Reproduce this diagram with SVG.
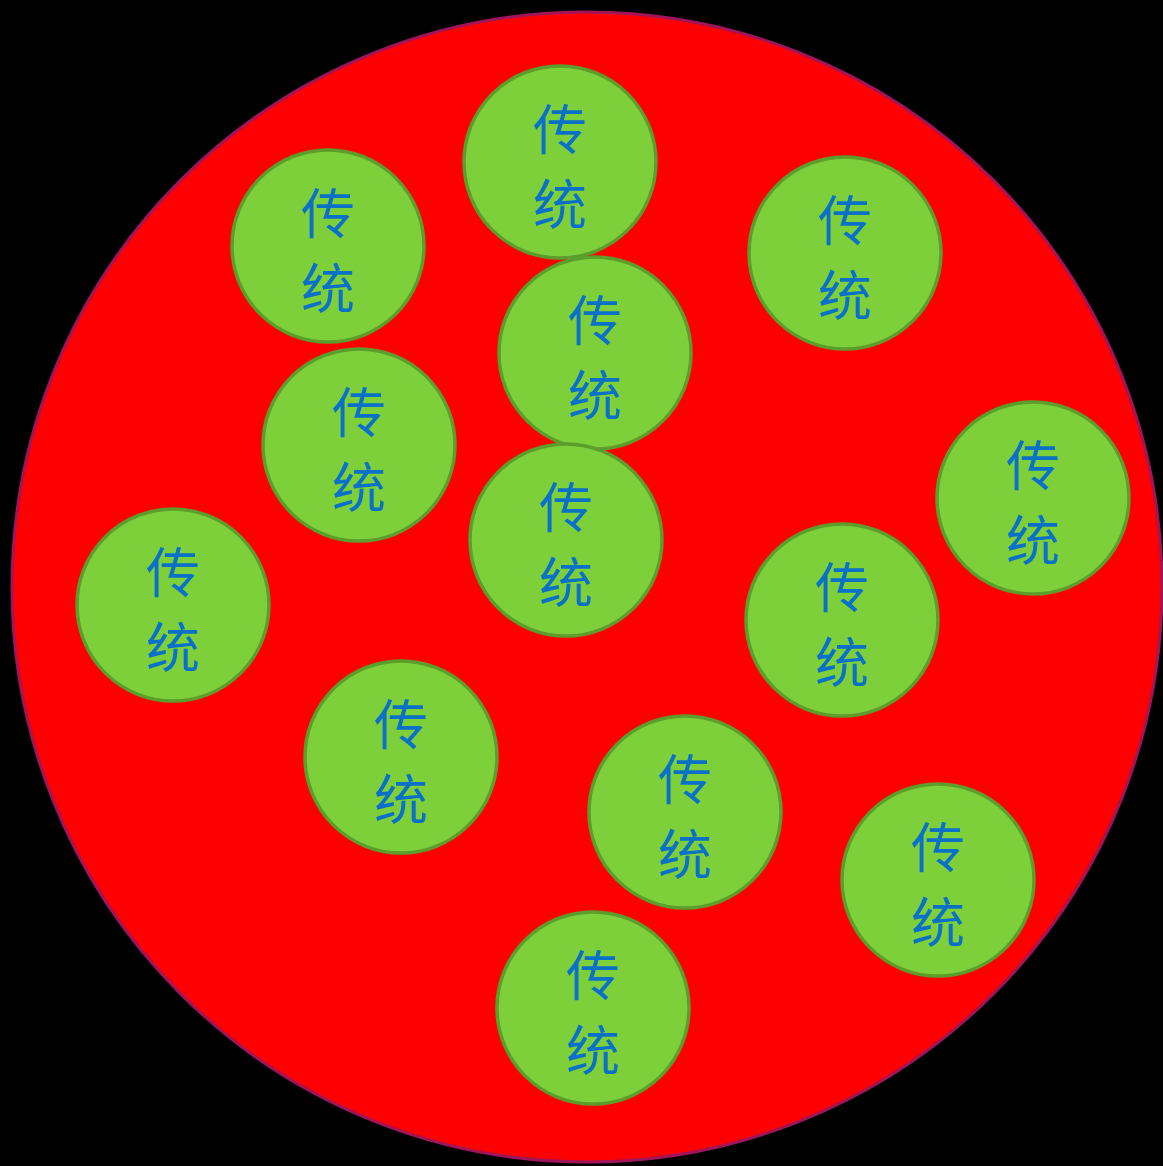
<svg xmlns="http://www.w3.org/2000/svg" width="1163" height="1166" viewBox="0 0 1163 1166">
<style>
.bg{fill:#000000}
.outer{fill:#FF0000;stroke:#A0145A;stroke-width:3}
.node circle{fill:#7ED03B;stroke:#5C9E2B;stroke-width:3.5}
.node text{font-family:"Noto Sans CJK SC","Noto Sans CJK TC",sans-serif;font-size:54px;fill:#0A70C8;text-anchor:middle;dominant-baseline:central}
</style>
<rect class="bg" x="0" y="0" width="1163" height="1166"/>
<g id="outer"><circle class="outer" cx="587" cy="587" r="575"/></g>
<g id="connectors"></g>
<g id="n1" class="node" transform="translate(560,162)"><circle r="96"/><text y="-36">传</text><text y="39">统</text></g>
<g id="n2" class="node" transform="translate(328,246)"><circle r="96"/><text y="-36">传</text><text y="39">统</text></g>
<g id="n3" class="node" transform="translate(845,253)"><circle r="96"/><text y="-36">传</text><text y="39">统</text></g>
<g id="n4" class="node" transform="translate(595,353)"><circle r="96"/><text y="-36">传</text><text y="39">统</text></g>
<g id="n5" class="node" transform="translate(359,445)"><circle r="96"/><text y="-36">传</text><text y="39">统</text></g>
<g id="n6" class="node" transform="translate(1033,498)"><circle r="96"/><text y="-36">传</text><text y="39">统</text></g>
<g id="n7" class="node" transform="translate(566,540)"><circle r="96"/><text y="-36">传</text><text y="39">统</text></g>
<g id="n8" class="node" transform="translate(173,605)"><circle r="96"/><text y="-36">传</text><text y="39">统</text></g>
<g id="n9" class="node" transform="translate(842,620)"><circle r="96"/><text y="-36">传</text><text y="39">统</text></g>
<g id="n10" class="node" transform="translate(401,757)"><circle r="96"/><text y="-36">传</text><text y="39">统</text></g>
<g id="n11" class="node" transform="translate(685,812)"><circle r="96"/><text y="-36">传</text><text y="39">统</text></g>
<g id="n12" class="node" transform="translate(938,880)"><circle r="96"/><text y="-36">传</text><text y="39">统</text></g>
<g id="n13" class="node" transform="translate(593,1008)"><circle r="96"/><text y="-36">传</text><text y="39">统</text></g>
</svg>
